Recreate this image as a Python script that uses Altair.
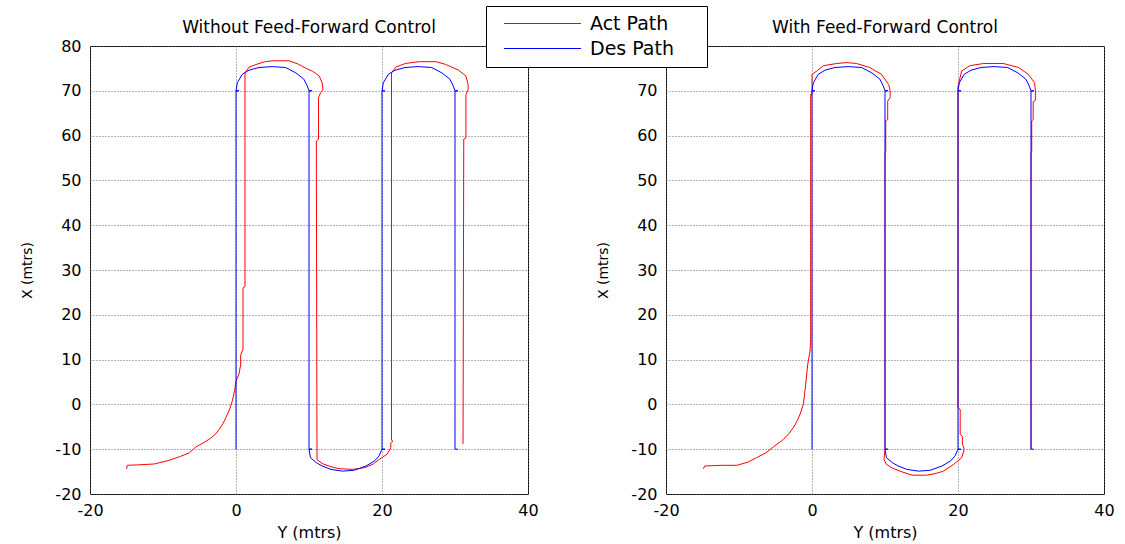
import altair as alt
import pandas as pd

# ---- data (horizontal = "Y (mtrs)", vertical = "X (mtrs)") ----
des_y = [0, 0, 0.4, 0, 0.18, 0.87, 1.78, 3.15, 4.97, 6.8, 8.2, 9.3, 9.75, 10, 10.4, 10,
         10, 10.4, 10, 10.2, 11.0, 11.8, 13.0, 14.6, 16.2, 17.8, 19.0, 19.6, 20, 20.4, 20,
         20, 20.4, 20, 20.18, 20.87, 21.78, 23.15, 24.97, 26.8, 28.2, 29.3, 29.75, 30, 30.4, 30,
         30, 30.4]
des_x = [-10, 70, 70, 70, 71.8, 73.7, 74.6, 75.2, 75.4, 75.2, 74.0, 72.6, 71.1, 70, 70, 70,
         -10, -10, -10, -11.9, -13.0, -13.75, -14.5, -14.9, -14.7, -13.75, -12.6, -11.5, -10, -10, -10,
         70, 70, 70, 71.8, 73.7, 74.6, 75.2, 75.4, 75.2, 74.0, 72.6, 71.1, 70, 70, 70,
         -10, -10]

act_nff_y = [-15.0, -14.9, -13.5, -11.2, -9.2, -7.6, -6.4, -5.5, -4.5, -3.7, -2.9, -2.3, -1.8, -1.4,
             -0.9, -0.5, -0.2, 0.0, 0.4, 0.64, 0.64, 0.96, 0.96, 1.23, 1.23, 1.8, 3.15, 4.0, 5.0, 7.3,
             8.6, 9.6, 10.45, 11.0, 11.4, 11.8, 11.9, 11.6, 11.3, 11.3, 11.0, 11.1, 11.8, 13.0, 14.1,
             15.9, 17.0, 17.8, 18.8, 19.6, 20.7, 21.2, 21.2, 21.5, 21.3, 21.3, 21.9, 23.2, 25.1, 27.4,
             28.7, 29.8, 30.5, 31.5, 31.8, 31.8, 31.5, 31.5, 31.2, 31.1]
act_nff_x = [-14.4, -13.6, -13.5, -13.3, -12.5, -11.6, -10.8, -9.5, -8.6, -7.8, -6.8, -5.6, -4.3, -3.0,
             -1.2, 0.8, 3.0, 5.2, 6.7, 8.9, 11.0, 12.3, 26.0, 26.3, 74.0, 75.3, 76.1, 76.5, 76.7, 76.7,
             75.9, 75.0, 74.4, 73.8, 73.3, 71.8, 70.3, 69.6, 68.5, 59.2, 58.8, -12.3, -13.2, -13.9, -14.35,
             -14.5, -14.3, -14.0, -13.3, -12.3, -11.1, -9.7, -8.6, -8.2, -8.0, 74.0, 75.3, 76.1, 76.5, 76.5,
             75.9, 75.1, 74.6, 73.3, 71.4, 70.3, 69.2, 59.5, 59.2, -8.8]

act_ff_y = [-14.9, -14.7, -12.5, -10.3, -8.8, -7.6, -6.3, -5.3, -3.9, -3.2, -2.56, -2.0, -1.64, -1.19,
            -1.0, -0.86, -0.59, -0.27, -0.18, -0.18, 0.0, 0.0, 0.64, 1.55, 3.4, 4.75, 6.1, 7.9, 9.5,
            10.5, 10.7, 10.7, 10.37, 10.37, 10.1, 10.1, 10.0, 10.0, 9.86, 10.2, 11.0, 12.05, 13.7, 15.7,
            17.0, 18.0, 19.4, 20.5, 20.8, 20.8, 20.6, 20.6, 20.3, 20.3, 20.0, 20.0, 20.5, 21.6, 23.5,
            26.2, 28.3, 29.6, 30.5, 30.6, 30.6, 30.3, 30.3, 30.1, 30.1, 30.0, 30.0]
act_ff_x = [-14.35, -13.75, -13.6, -13.6, -12.9, -11.9, -10.8, -9.5, -7.8, -6.6, -5.2, -3.6, -2.2, 0.0,
            2.5, 4.5, 8.9, 11.9, 14.2, 69.2, 69.2, 73.7, 74.4, 75.6, 76.1, 76.3, 76.1, 75.2, 73.7,
            71.4, 70.0, 68.5, 67.7, 63.6, 63.3, 56.4, 56.0, -10.0, -12.3, -13.4, -14.2, -14.9, -15.8, -15.8,
            -15.4, -14.9, -13.4, -11.9, -10.4, -9.7, -8.9, -7.1, -6.7, -1.1, -0.7, 71.0, 74.4, 75.6, 76.1,
            76.1, 75.2, 73.7, 71.8, 70.0, 67.9, 67.6, 63.6, 63.3, 56.4, 56.0, -10.0]

series_names = ["Act Path", "Des Path"]
series_colors = ["#FF0000", "#0000FF"]
x_ticks = [-20, 0, 20, 40]
y_ticks = [-20, -10, 0, 10, 20, 30, 40, 50, 60, 70, 80]


def frame(ys, xs, name):
    return pd.DataFrame({"yv": ys, "xv": xs, "series": name, "i": range(len(ys))})


df_left = pd.concat([frame(act_nff_y, act_nff_x, "Act Path"), frame(des_y, des_x, "Des Path")])
df_right = pd.concat([frame(act_ff_y, act_ff_x, "Act Path"), frame(des_y, des_x, "Des Path")])

FONT = "DejaVu Sans"
LABEL_EXPR = "'' + datum.value"


def panel(df, title, show_legend):
    color_kwargs = dict(scale=alt.Scale(domain=series_names, range=series_colors), sort=series_names)
    if show_legend:
        legend = alt.Legend(
            title=None, orient="none", legendX=396, legendY=-40,
            symbolType="M-1,0H9.27", symbolSize=225, symbolStrokeWidth=1,
            symbolFillColor="transparent", symbolOffset=8,
            labelFont=FONT, labelFontSize=19, labelColor="black", labelOffset=69,
            labelExpr="datum.label + '\u00a0\u00a0\u00a0\u00a0\u200b'",
            fillColor="white", strokeColor="black", padding=8, rowPadding=5,
            labelLimit=300,
        )
        color = alt.Color("series:N", legend=legend, **color_kwargs)
    else:
        color = alt.Color("series:N", **color_kwargs)
    return alt.Chart(df).mark_line(strokeWidth=1, clip=True).encode(
        x=alt.X("yv:Q", scale=alt.Scale(domain=[-20, 40], nice=False),
                axis=alt.Axis(values=x_ticks, title="Y (mtrs)", grid=True, ticks=False,
                              domain=False, labelPadding=8, titlePadding=6,
                              labelFlush=False, labelExpr=LABEL_EXPR)),
        y=alt.Y("xv:Q", scale=alt.Scale(domain=[-20, 80], nice=False),
                axis=alt.Axis(values=y_ticks, title="X (mtrs)", grid=True, ticks=False,
                              domain=False, labelPadding=9, titlePadding=20,
                              labelFlush=False, labelExpr=LABEL_EXPR)),
        color=color,
        order="i:Q",
    ).properties(
        width=438, height=448,
        title=alt.TitleParams(title, font=FONT, fontSize=17, fontWeight="normal", offset=1, color="black"),
    )


left = panel(df_left, "Without Feed-Forward Control", True)
right = panel(df_right, "With Feed-Forward Control", False)

chart = alt.hconcat(left, right, spacing=57).resolve_scale(color="shared").resolve_legend(
    color="shared"
).properties(
    padding={"left": 20, "top": 5, "right": 5, "bottom": 5},
    background="white",
).configure_view(
    stroke="black", strokeWidth=1
).configure_axis(
    labelFont=FONT, labelFontSize=16, labelColor="black",
    titleFont=FONT, titleFontSize=16, titleFontWeight="normal", titleColor="black",
    gridColor="#666666", gridDash=[1, 2], gridWidth=1,
).configure_axisY(
    titleFontSize=14,
)

chart.save("out.html", embed_options={"renderer": "svg", "actions": False})
